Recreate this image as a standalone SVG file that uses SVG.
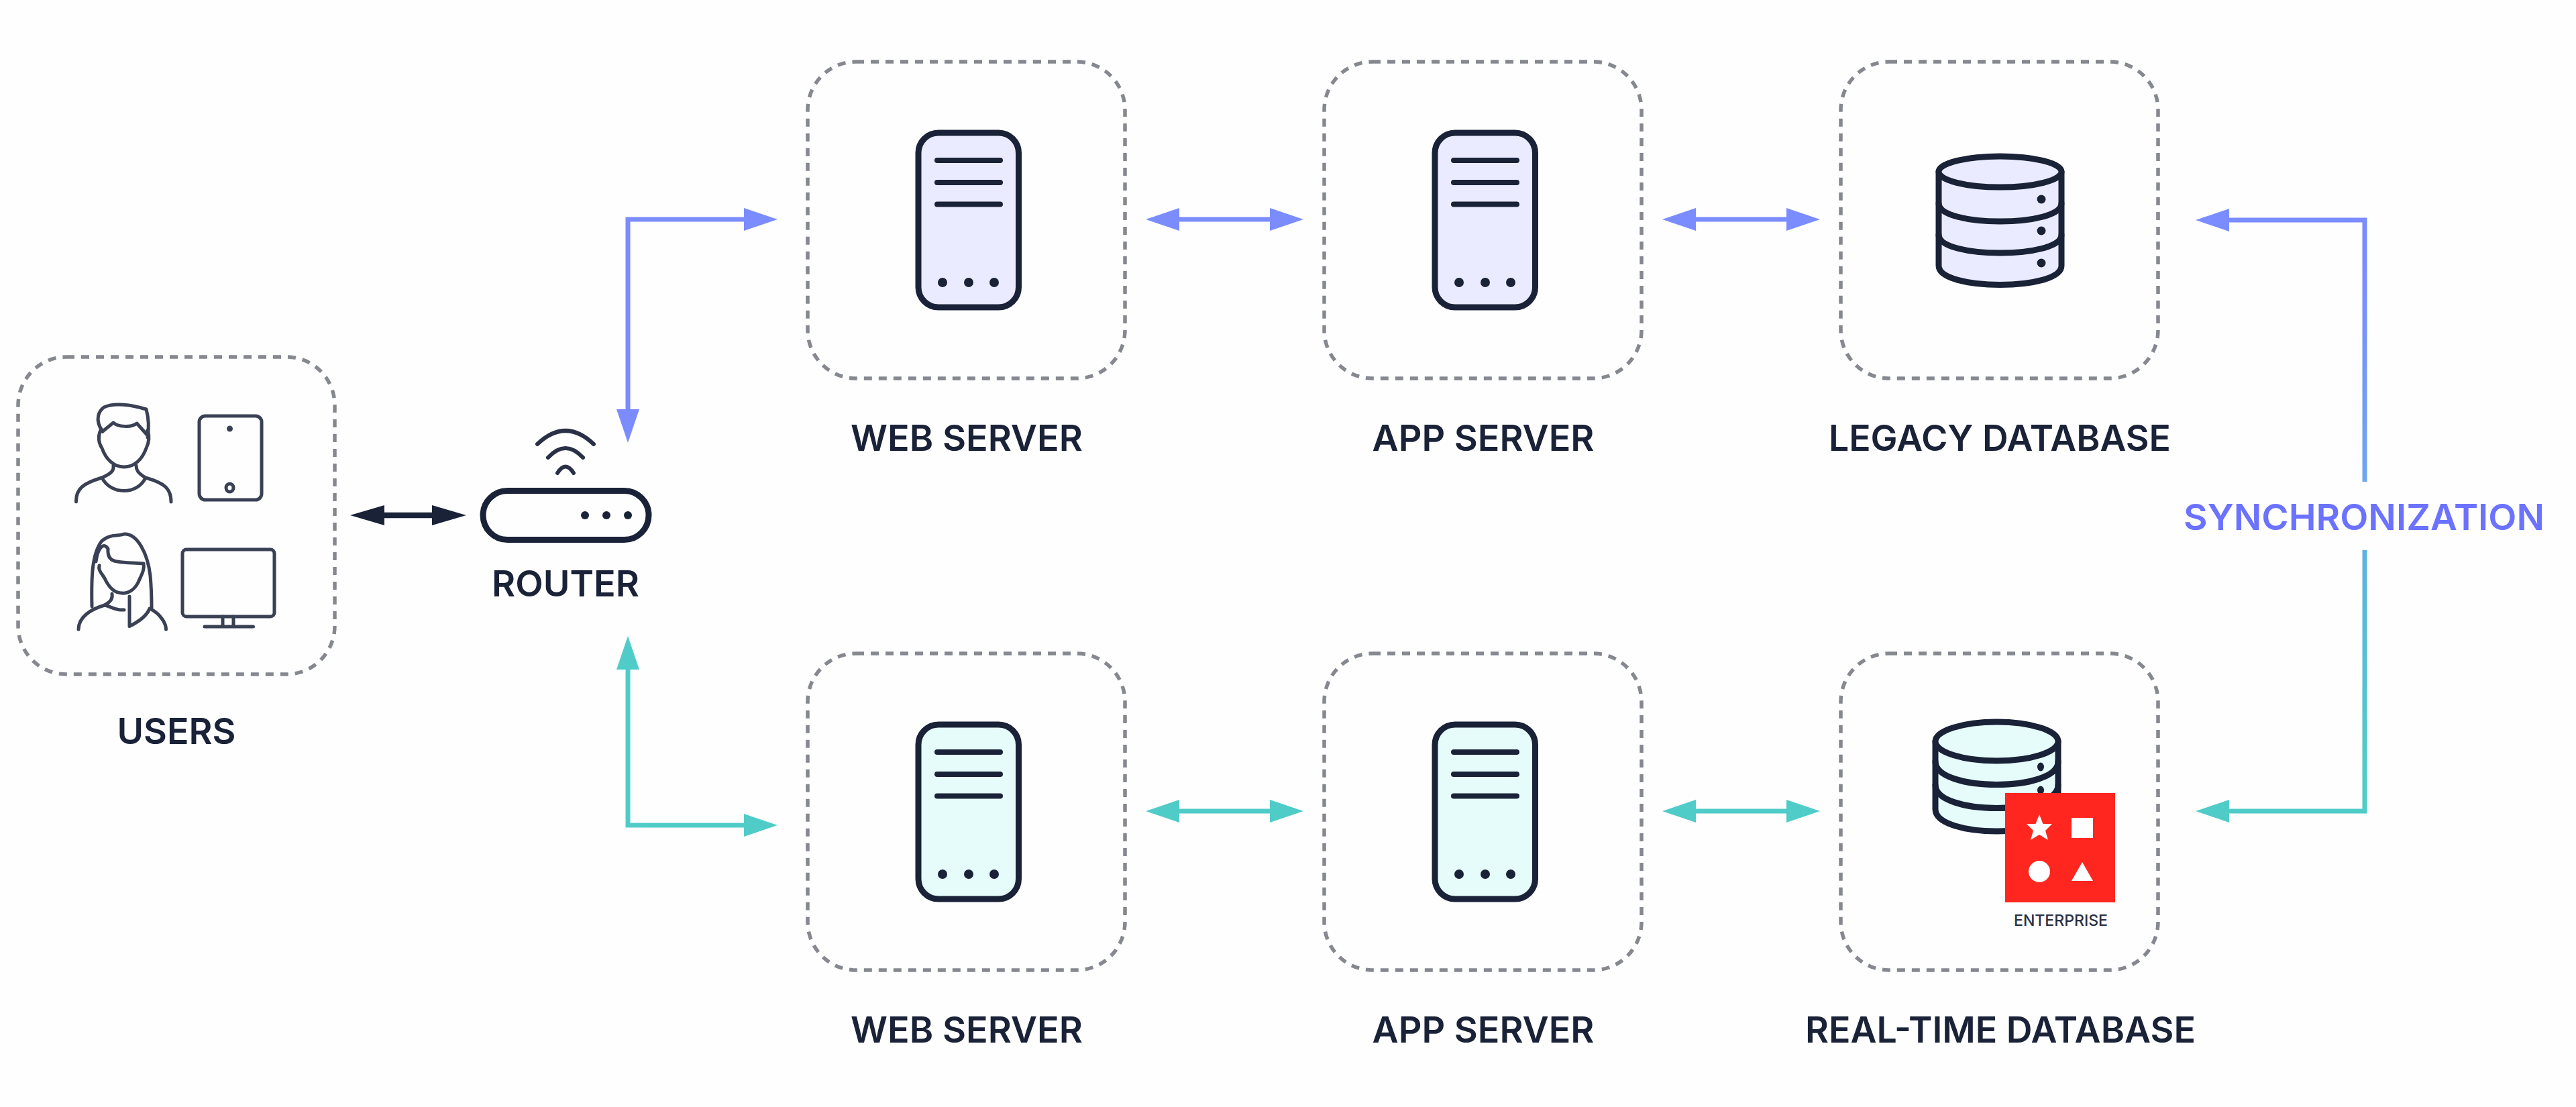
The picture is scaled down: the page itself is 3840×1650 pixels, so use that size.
<svg xmlns="http://www.w3.org/2000/svg" xmlns:xlink="http://www.w3.org/1999/xlink" width="3840" height="1650" viewBox="0 0 3840 1650">
<style>
.box{fill:none;stroke:#85888f;stroke-width:5.500;stroke-dasharray:12 10}
.ic{stroke:#1a2238;stroke-width:9;stroke-linecap:round;stroke-linejoin:round}
.ln{fill:none;stroke:#1a2238;stroke-width:8;stroke-linecap:round}
.dot{fill:#1a2238}
.thin{fill:none;stroke:#3a4154;stroke-width:5;stroke-linecap:round;stroke-linejoin:round}
.wifi{stroke-width:6;stroke:#2a3146}
.lbl{font-family:Inter,"Liberation Sans",sans-serif;font-weight:600;font-size:54px;fill:#1a2238;text-anchor:middle}
.blue{fill:none;stroke:#7b8cff;stroke-width:7;marker-start:url(#hb);marker-end:url(#hb)}
.teal{fill:none;stroke:#50ccc8;stroke-width:7;marker-start:url(#ht);marker-end:url(#ht)}
</style>
<defs>
<marker id="hb" markerUnits="userSpaceOnUse" viewBox="0 -17 50 34" refX="0" refY="0" markerWidth="50" markerHeight="34" orient="auto-start-reverse"><path d="M0,-17L50,0L0,17z" fill="#7b8cff"/></marker>
<marker id="ht" markerUnits="userSpaceOnUse" viewBox="0 -17 50 34" refX="0" refY="0" markerWidth="50" markerHeight="34" orient="auto-start-reverse"><path d="M0,-17L50,0L0,17z" fill="#50ccc8"/></marker>
<marker id="hd" markerUnits="userSpaceOnUse" viewBox="0 -15 51 30" refX="0" refY="0" markerWidth="51" markerHeight="30" orient="auto-start-reverse"><path d="M0,-15L51,0L0,15z" fill="#1a2238"/></marker>
<linearGradient id="gu" gradientUnits="userSpaceOnUse" x1="0" y1="400" x2="0" y2="718"><stop offset="0" stop-color="#7b8cff"/><stop offset="1" stop-color="#6fa6ee"/></linearGradient>
<linearGradient id="gd" gradientUnits="userSpaceOnUse" x1="0" y1="820" x2="0" y2="1150"><stop offset="0" stop-color="#5fb2de"/><stop offset="1" stop-color="#50ccc8"/></linearGradient>
<g id="srv">
<rect x="1369" y="198" width="149.500" height="260" rx="30" class="ic"/>
<path class="ln" d="M1397,239H1491M1397,272H1491M1397,304.5H1491"/>
<circle class="dot" cx="1405" cy="421" r="7"/><circle class="dot" cx="1444" cy="421" r="7"/><circle class="dot" cx="1482" cy="421" r="7"/>
</g>
</defs>
<rect width="3840" height="1650" fill="#fefefe"/>

<g id="connectors">
<path d="M573,768H644" fill="none" stroke="#1a2238" stroke-width="8.5" marker-start="url(#hd)" marker-end="url(#hd)"/>
<path class="blue" d="M936,610V327H1109"/>
<path class="blue" d="M1758,327H1893"/>
<path class="blue" d="M2528,327H2663"/>
<path d="M3525,718V328H3323" fill="none" stroke="url(#gu)" stroke-width="7" marker-end="url(#hb)"/>
<path class="teal" d="M936,998V1230H1109"/>
<path class="teal" d="M1758,1209H1893"/>
<path class="teal" d="M2528,1209H2663"/>
<path d="M3525,820V1209H3323" fill="none" stroke="url(#gd)" stroke-width="7" marker-end="url(#ht)"/>
</g>

<g id="users">
<rect class="box" x="27" y="532" width="472" height="473" rx="72"/>
<g id="man" class="thin">
<path d="M153,643C140,625 148,612 155,607C170,600 195,603 218,610C222,625 222,640 220,652"/>
<path d="M153,643L169,630C175,636 195,638 204,631L220,649"/>
<path d="M150,641C146,650 147,660 152,668C158,685 170,696 185,696C200,696 212,685 218,668C222,660 223,650 220,641"/>
<path d="M169,694C170,700 168,705 152,712C165,738 205,738 217,712C205,705 203,700 203,694"/>
<path d="M152,712C125,720 113,728 113.500,748M217,712C245,720 255,728 255,748"/>
</g>
<g id="tablet" class="thin">
<rect x="297" y="620" width="93" height="125" rx="9"/>
<circle cx="342.500" cy="639" r="2" class="dot"/>
<ellipse cx="342.500" cy="727" rx="5.500" ry="6"/>
</g>
<g id="woman" class="thin">
<path d="M137,904C136,860 137,825 152,806C165,795 175,800 185,796C205,795 220,825 224,858C226,880 226,895 226,906"/>
<path d="M143,837C146,815 155,808 161,818C160,830 165,836 175,837C190,840 200,838 214,840C216,850 210,858 206,868C200,880 190,885 182,884C170,884 162,875 156,862C152,855 146,850 148,843"/>
<path d="M167,885C168,892 166,896 156,902C168,905 172,910 185,909"/>
<path d="M156,902C135,908 117,920 117,938"/>
<path d="M193,889V933.500C210,925 220,915 223,907C240,915 247.500,930 247.500,938"/>
</g>
<g id="monitor" class="thin">
<rect x="272" y="819" width="137" height="100" rx="6"/>
<path d="M332,919V933M348,919V933M305,934H377.500"/>
</g>
<text class="lbl" x="263" y="1109" textLength="177" lengthAdjust="spacingAndGlyphs">USERS</text>
</g>

<g id="router">
<rect x="720" y="731.500" width="247" height="73" rx="36.500" class="ic" fill="none"/>
<circle class="dot" cx="872" cy="768" r="6"/><circle class="dot" cx="904" cy="768" r="6"/><circle class="dot" cx="936" cy="768" r="6"/>
<path class="thin wifi" d="M801,662Q843,622 885,662M817,682Q843,654 869,682M831,705Q843,686 855,705"/>
<text class="lbl" x="843" y="889" textLength="220" lengthAdjust="spacingAndGlyphs">ROUTER</text>
</g>

<g id="web-server-top">
<rect class="box" x="1204" y="92" width="473" height="472" rx="72"/>
<use xlink:href="#srv" href="#srv" fill="#ebebff"/>
<text class="lbl" x="1441" y="672" textLength="346" lengthAdjust="spacingAndGlyphs">WEB SERVER</text>
</g>
<g id="app-server-top">
<rect class="box" x="1974" y="92" width="473" height="472" rx="72"/>
<use xlink:href="#srv" href="#srv" x="770" fill="#ebebff"/>
<text class="lbl" x="2211" y="672" textLength="331" lengthAdjust="spacingAndGlyphs">APP SERVER</text>
</g>
<g id="legacy-database">
<rect class="box" x="2744" y="92" width="473" height="472" rx="72"/>
<path class="ic" fill="#ebebff" d="M2890,256V396C2890,434 3073,434 3073,396V256Z"/>
<ellipse class="ic" cx="2981.500" cy="256" rx="91.500" ry="23" fill="#ebebff"/>
<path class="ic" fill="none" d="M2890,303C2890,339 3073,339 3073,303M2890,350C2890,386 3073,386 3073,350"/>
<circle class="dot" cx="3043" cy="297" r="6.500"/><circle class="dot" cx="3043" cy="344" r="6.500"/><circle class="dot" cx="3043" cy="392" r="6.500"/>
<text class="lbl" x="2981" y="672" textLength="510" lengthAdjust="spacingAndGlyphs">LEGACY DATABASE</text>
</g>

<text id="sync-label" class="lbl" x="3524" y="790" style="fill:#6b72ff" textLength="538" lengthAdjust="spacingAndGlyphs">SYNCHRONIZATION</text>

<g id="web-server-bottom">
<rect class="box" x="1204" y="974" width="473" height="472" rx="72"/>
<use xlink:href="#srv" href="#srv" y="882" fill="#e6fcfb"/>
<text class="lbl" x="1441" y="1554" textLength="346" lengthAdjust="spacingAndGlyphs">WEB SERVER</text>
</g>
<g id="app-server-bottom">
<rect class="box" x="1974" y="974" width="473" height="472" rx="72"/>
<use xlink:href="#srv" href="#srv" x="770" y="882" fill="#e6fcfb"/>
<text class="lbl" x="2211" y="1554" textLength="331" lengthAdjust="spacingAndGlyphs">APP SERVER</text>
</g>
<g id="real-time-database">
<rect class="box" x="2744" y="974" width="473" height="472" rx="72"/>
<path class="ic" fill="#e6fcfb" d="M2885,1105V1206C2885,1250 3068,1250 3068,1206V1105Z"/>
<ellipse class="ic" cx="2976.500" cy="1105" rx="91.500" ry="29" fill="#e6fcfb"/>
<path class="ic" fill="none" d="M2885,1135C2885,1181 3068,1181 3068,1135M2885,1170C2885,1216 3068,1216 3068,1170"/>
<ellipse class="dot" cx="3042" cy="1143" rx="5" ry="6.500"/><ellipse class="dot" cx="3042" cy="1178" rx="5" ry="6.500"/>
<rect x="2989" y="1182" width="164" height="163" fill="#ff2620"/>
<path fill="#fff" d="M3040,1214L3045.500,1228L3059,1228L3049,1238L3053,1252L3040,1244L3027,1252L3031,1238L3021,1228L3034.500,1228Z"/>
<rect x="3088" y="1219" width="32" height="30" fill="#fff"/>
<circle cx="3040" cy="1299" r="16" fill="#fff"/>
<path fill="#fff" d="M3104,1285L3120,1313H3088Z"/>
<text x="3072" y="1380" font-family="Inter,'Liberation Sans',sans-serif" font-weight="500" font-size="23" fill="#2a3146" text-anchor="middle" textLength="140" lengthAdjust="spacingAndGlyphs">ENTERPRISE</text>
<text class="lbl" x="2982" y="1554" textLength="582" lengthAdjust="spacingAndGlyphs">REAL-TIME DATABASE</text>
</g>
</svg>
